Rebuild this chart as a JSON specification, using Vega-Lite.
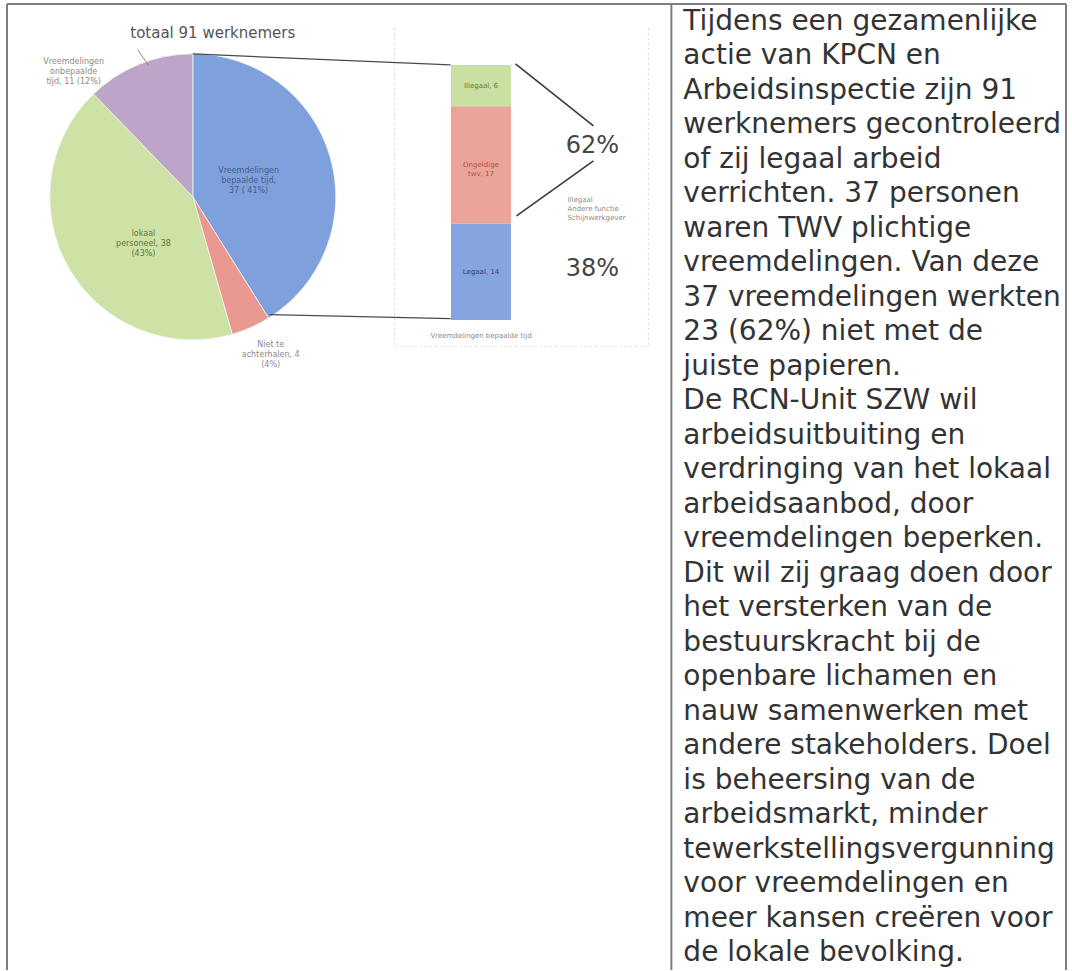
{
  "$schema": "https://vega.github.io/schema/vega-lite/v6.json",
  "width": 1072,
  "height": 971,
  "autosize": {"type": "fit", "contains": "padding"},
  "padding": 0,
  "background": "#ffffff",
  "config": {"view": {"stroke": null}},
  "datasets": {
    "werknemers": [
      {"categorie": "Vreemdelingen bepaalde tijd", "aantal": 37, "volgorde": 1, "label": "Vreemdelingen\nbepaalde tijd,\n37 ( 41%)"},
      {"categorie": "Niet te achterhalen", "aantal": 4, "volgorde": 2, "label": "Niet te\nachterhalen, 4\n(4%)"},
      {"categorie": "Lokaal personeel", "aantal": 38, "volgorde": 3, "label": "lokaal\npersoneel, 38\n(43%)"},
      {"categorie": "Vreemdelingen onbepaalde tijd", "aantal": 11, "volgorde": 4, "label": "Vreemdelingen\nonbepaalde\ntijd, 11 (12%)"}
    ],
    "twv": [
      {"groep": "Vreemdelingen bepaalde tijd", "soort": "Legaal", "aantal": 14, "volgorde": 1, "label": "Legaal, 14"},
      {"groep": "Vreemdelingen bepaalde tijd", "soort": "Ongeldige twv", "aantal": 17, "volgorde": 2, "label": "Ongeldige\ntwv, 17"},
      {"groep": "Vreemdelingen bepaalde tijd", "soort": "Illegaal", "aantal": 6, "volgorde": 3, "label": "Illegaal, 6"}
    ]
  },
  "resolve": {"scale": {"x": "independent", "y": "independent", "color": "independent"}},
  "layer": [
    {
      "layer": [
        {"data": {"values": [{}]}, "mark": {"type": "rule", "color": "#7d7d7d", "strokeWidth": 2},
         "encoding": {"x": {"datum": 6, "type": "quantitative", "scale": {"domain": [0, 1072], "nice": false, "zero": false}, "axis": null},
                      "y": {"datum": 4, "type": "quantitative", "scale": {"domain": [971, 0], "nice": false, "zero": false}, "axis": null},
                      "y2": {"datum": 971}}},
        {"data": {"values": [{}]}, "mark": {"type": "rule", "color": "#7d7d7d", "strokeWidth": 2},
         "encoding": {"x": {"datum": 6, "type": "quantitative", "scale": {"domain": [0, 1072], "nice": false, "zero": false}, "axis": null},
                      "x2": {"datum": 1066},
                      "y": {"datum": 4, "type": "quantitative", "scale": {"domain": [971, 0], "nice": false, "zero": false}, "axis": null}}},
        {"data": {"values": [{}]}, "mark": {"type": "rule", "color": "#7d7d7d", "strokeWidth": 2},
         "encoding": {"x": {"datum": 1066, "type": "quantitative", "scale": {"domain": [0, 1072], "nice": false, "zero": false}, "axis": null},
                      "y": {"datum": 4, "type": "quantitative", "scale": {"domain": [971, 0], "nice": false, "zero": false}, "axis": null},
                      "y2": {"datum": 971}}},
        {"data": {"values": [{}]}, "mark": {"type": "rule", "color": "#7d7d7d", "strokeWidth": 2},
         "encoding": {"x": {"datum": 671, "type": "quantitative", "scale": {"domain": [0, 1072], "nice": false, "zero": false}, "axis": null},
                      "y": {"datum": 4, "type": "quantitative", "scale": {"domain": [971, 0], "nice": false, "zero": false}, "axis": null},
                      "y2": {"datum": 971}}},
        {"data": {"values": [{}]}, "mark": {"type": "rule", "color": "#d6d6d6", "strokeWidth": 1, "strokeDash": [2, 3]},
         "encoding": {"x": {"datum": 394, "type": "quantitative", "scale": {"domain": [0, 1072], "nice": false, "zero": false}, "axis": null},
                      "y": {"datum": 28, "type": "quantitative", "scale": {"domain": [971, 0], "nice": false, "zero": false}, "axis": null},
                      "y2": {"datum": 347}}},
        {"data": {"values": [{}]}, "mark": {"type": "rule", "color": "#d6d6d6", "strokeWidth": 1, "strokeDash": [2, 3]},
         "encoding": {"x": {"datum": 648, "type": "quantitative", "scale": {"domain": [0, 1072], "nice": false, "zero": false}, "axis": null},
                      "y": {"datum": 28, "type": "quantitative", "scale": {"domain": [971, 0], "nice": false, "zero": false}, "axis": null},
                      "y2": {"datum": 347}}},
        {"data": {"values": [{}]}, "mark": {"type": "rule", "color": "#dedede", "strokeWidth": 1, "strokeDash": [2, 3]},
         "encoding": {"x": {"datum": 394, "type": "quantitative", "scale": {"domain": [0, 1072], "nice": false, "zero": false}, "axis": null},
                      "x2": {"datum": 648},
                      "y": {"datum": 347, "type": "quantitative", "scale": {"domain": [971, 0], "nice": false, "zero": false}, "axis": null}}},
        {"data": {"name": "werknemers"},
         "mark": {"type": "arc", "outerRadius": 143, "stroke": "#f2f2f2", "strokeWidth": 0.8},
         "encoding": {"x": {"datum": 192, "type": "quantitative", "scale": {"domain": [0, 1072], "nice": false, "zero": false}, "axis": null},
                      "y": {"datum": 197, "type": "quantitative", "scale": {"domain": [971, 0], "nice": false, "zero": false}, "axis": null},
                      "theta": {"field": "aantal", "type": "quantitative", "stack": true},
                      "order": {"field": "volgorde", "type": "quantitative"},
                      "color": {"field": "categorie", "type": "nominal", "legend": null,
                                "scale": {"domain": ["Vreemdelingen bepaalde tijd", "Niet te achterhalen", "Lokaal personeel", "Vreemdelingen onbepaalde tijd"],
                                          "range": ["#7ea1dd", "#e9998f", "#cde2a4", "#bca5c6"]}}}},
        {"data": {"name": "werknemers"},
         "mark": {"type": "text", "radius": 58, "dy": -10, "fontSize": 8, "font": "DejaVu Sans", "lineBreak": "\n", "lineHeight": 10, "color": "#4b5b86"},
         "encoding": {"x": {"datum": 192, "type": "quantitative", "scale": {"domain": [0, 1072], "nice": false, "zero": false}, "axis": null},
                      "y": {"datum": 197, "type": "quantitative", "scale": {"domain": [971, 0], "nice": false, "zero": false}, "axis": null},
                      "theta": {"field": "aantal", "type": "quantitative", "stack": true},
                      "order": {"field": "volgorde", "type": "quantitative"},
                      "text": {"condition": {"test": "datum.categorie === 'Vreemdelingen bepaalde tijd'", "field": "label", "type": "nominal"}, "value": ""}}},
        {"data": {"name": "werknemers"},
         "mark": {"type": "text", "radius": 57, "dy": 9, "fontSize": 8, "font": "DejaVu Sans", "lineBreak": "\n", "lineHeight": 10, "color": "#66723f"},
         "encoding": {"x": {"datum": 192, "type": "quantitative", "scale": {"domain": [0, 1072], "nice": false, "zero": false}, "axis": null},
                      "y": {"datum": 197, "type": "quantitative", "scale": {"domain": [971, 0], "nice": false, "zero": false}, "axis": null},
                      "theta": {"field": "aantal", "type": "quantitative", "stack": true},
                      "order": {"field": "volgorde", "type": "quantitative"},
                      "text": {"condition": {"test": "datum.categorie === 'Lokaal personeel'", "field": "label", "type": "nominal"}, "value": ""}}},
        {"data": {"name": "werknemers"},
         "mark": {"type": "text", "radius": 162, "dx": 12, "fontSize": 8, "font": "DejaVu Sans", "lineBreak": "\n", "lineHeight": 10, "color": "#8a8a8a"},
         "encoding": {"x": {"datum": 192, "type": "quantitative", "scale": {"domain": [0, 1072], "nice": false, "zero": false}, "axis": null},
                      "y": {"datum": 197, "type": "quantitative", "scale": {"domain": [971, 0], "nice": false, "zero": false}, "axis": null},
                      "theta": {"field": "aantal", "type": "quantitative", "stack": true},
                      "order": {"field": "volgorde", "type": "quantitative"},
                      "text": {"condition": {"test": "datum.categorie === 'Niet te achterhalen'", "field": "label", "type": "nominal"}, "value": ""}}},
        {"data": {"name": "werknemers"},
         "mark": {"type": "text", "radius": 150, "dx": -63, "dy": 4, "fontSize": 8, "font": "DejaVu Sans", "lineBreak": "\n", "lineHeight": 10, "color": "#8a8a8a"},
         "encoding": {"x": {"datum": 192, "type": "quantitative", "scale": {"domain": [0, 1072], "nice": false, "zero": false}, "axis": null},
                      "y": {"datum": 197, "type": "quantitative", "scale": {"domain": [971, 0], "nice": false, "zero": false}, "axis": null},
                      "theta": {"field": "aantal", "type": "quantitative", "stack": true},
                      "order": {"field": "volgorde", "type": "quantitative"},
                      "text": {"condition": {"test": "datum.categorie === 'Vreemdelingen onbepaalde tijd'", "field": "label", "type": "nominal"}, "value": ""}}},
        {"data": {"values": [{}]}, "mark": {"type": "rule", "color": "#8a8a8a", "strokeWidth": 1},
         "encoding": {"x": {"datum": 137, "type": "quantitative", "scale": {"domain": [0, 1072], "nice": false, "zero": false}, "axis": null},
                      "y": {"datum": 50, "type": "quantitative", "scale": {"domain": [971, 0], "nice": false, "zero": false}, "axis": null},
                      "x2": {"datum": 148}, "y2": {"datum": 66}}},
        {"data": {"values": [{}]}, "mark": {"type": "rule", "color": "#4a4a4a", "strokeWidth": 1.3},
         "encoding": {"x": {"datum": 192, "type": "quantitative", "scale": {"domain": [0, 1072], "nice": false, "zero": false}, "axis": null},
                      "y": {"datum": 54, "type": "quantitative", "scale": {"domain": [971, 0], "nice": false, "zero": false}, "axis": null},
                      "x2": {"datum": 450}, "y2": {"datum": 65}}},
        {"data": {"values": [{}]}, "mark": {"type": "rule", "color": "#4a4a4a", "strokeWidth": 1.3},
         "encoding": {"x": {"datum": 269, "type": "quantitative", "scale": {"domain": [0, 1072], "nice": false, "zero": false}, "axis": null},
                      "y": {"datum": 315, "type": "quantitative", "scale": {"domain": [971, 0], "nice": false, "zero": false}, "axis": null},
                      "x2": {"datum": 450}, "y2": {"datum": 319}}},
        {"data": {"values": [{}]}, "mark": {"type": "rule", "color": "#3a3a3a", "strokeWidth": 1.6},
         "encoding": {"x": {"datum": 515, "type": "quantitative", "scale": {"domain": [0, 1072], "nice": false, "zero": false}, "axis": null},
                      "y": {"datum": 64, "type": "quantitative", "scale": {"domain": [971, 0], "nice": false, "zero": false}, "axis": null},
                      "x2": {"datum": 593}, "y2": {"datum": 126}}},
        {"data": {"values": [{}]}, "mark": {"type": "rule", "color": "#3a3a3a", "strokeWidth": 1.6},
         "encoding": {"x": {"datum": 593, "type": "quantitative", "scale": {"domain": [0, 1072], "nice": false, "zero": false}, "axis": null},
                      "y": {"datum": 161, "type": "quantitative", "scale": {"domain": [971, 0], "nice": false, "zero": false}, "axis": null},
                      "x2": {"datum": 516}, "y2": {"datum": 216}}},
        {"data": {"values": [{}]}, "mark": {"type": "text", "text": "totaal 91 werknemers", "fontSize": 15, "font": "DejaVu Sans", "color": "#555555", "align": "center", "baseline": "middle"},
         "encoding": {"x": {"datum": 212, "type": "quantitative", "scale": {"domain": [0, 1072], "nice": false, "zero": false}, "axis": null},
                      "y": {"datum": 33, "type": "quantitative", "scale": {"domain": [971, 0], "nice": false, "zero": false}, "axis": null}}},
        {"data": {"values": [{}]}, "mark": {"type": "text", "text": "62%", "fontSize": 24, "font": "DejaVu Sans", "color": "#454545", "align": "center", "baseline": "middle"},
         "encoding": {"x": {"datum": 592, "type": "quantitative", "scale": {"domain": [0, 1072], "nice": false, "zero": false}, "axis": null},
                      "y": {"datum": 146, "type": "quantitative", "scale": {"domain": [971, 0], "nice": false, "zero": false}, "axis": null}}},
        {"data": {"values": [{}]}, "mark": {"type": "text", "text": "38%", "fontSize": 24, "font": "DejaVu Sans", "color": "#454545", "align": "center", "baseline": "middle"},
         "encoding": {"x": {"datum": 592, "type": "quantitative", "scale": {"domain": [0, 1072], "nice": false, "zero": false}, "axis": null},
                      "y": {"datum": 269, "type": "quantitative", "scale": {"domain": [971, 0], "nice": false, "zero": false}, "axis": null}}},
        {"data": {"values": [{}]}, "mark": {"type": "text", "text": ["Illegaal", "Andere functie", "Schijnwerkgever"], "fontSize": 7, "lineHeight": 9, "font": "DejaVu Sans", "color": "#8a8a8a", "align": "left", "baseline": "middle"},
         "encoding": {"x": {"datum": 567, "type": "quantitative", "scale": {"domain": [0, 1072], "nice": false, "zero": false}, "axis": null},
                      "y": {"datum": 200, "type": "quantitative", "scale": {"domain": [971, 0], "nice": false, "zero": false}, "axis": null}}},
        {"data": {"values": [{}]},
         "mark": {"type": "text", "fontSize": 28, "lineHeight": 34.5, "font": "DejaVu Sans", "color": "#333333", "align": "left", "baseline": "alphabetic",
                  "text": ["Tijdens een gezamenlijke", "actie van KPCN en", "Arbeidsinspectie zijn 91", "werknemers gecontroleerd", "of zij legaal arbeid", "verrichten. 37 personen", "waren TWV plichtige", "vreemdelingen. Van deze", "37 vreemdelingen werkten", "23 (62%) niet met de", "juiste papieren.", "De RCN-Unit SZW wil", "arbeidsuitbuiting en", "verdringing van het lokaal", "arbeidsaanbod, door", "vreemdelingen beperken.", "Dit wil zij graag doen door", "het versterken van de", "bestuurskracht bij de", "openbare lichamen en", "nauw samenwerken met", "andere stakeholders. Doel", "is beheersing van de", "arbeidsmarkt, minder", "tewerkstellingsvergunning", "voor vreemdelingen en", "meer kansen creëren voor", "de lokale bevolking."]},
         "encoding": {"x": {"datum": 683, "type": "quantitative", "scale": {"domain": [0, 1072], "nice": false, "zero": false}, "axis": null},
                      "y": {"datum": 30, "type": "quantitative", "scale": {"domain": [971, 0], "nice": false, "zero": false}, "axis": null}}}
      ]
    },
    {
      "data": {"name": "twv"},
      "encoding": {
        "x": {"field": "groep", "type": "nominal",
              "scale": {"domain": ["Vreemdelingen bepaalde tijd"], "range": [450, 510], "paddingInner": 0, "paddingOuter": 0},
              "axis": {"orient": "bottom", "offset": -651, "title": null, "domain": false, "ticks": false, "grid": false, "labelFontSize": 7, "labelFont": "DejaVu Sans", "labelColor": "#8a8a8a", "labelPadding": 12, "labelAngle": 0}},
        "order": {"field": "volgorde", "type": "quantitative"}
      },
      "layer": [
        {"mark": {"type": "bar"},
         "encoding": {"y": {"field": "aantal", "type": "quantitative", "stack": "zero", "scale": {"domain": [0, 37], "range": [320, 65], "nice": false, "zero": false}, "axis": null},
                      "color": {"field": "soort", "type": "nominal", "legend": null,
                                "scale": {"domain": ["Legaal", "Ongeldige twv", "Illegaal"], "range": ["#86a5de", "#eba39a", "#c9e0a2"]}}}},
        {"mark": {"type": "text", "fontSize": 7, "font": "DejaVu Sans", "lineBreak": "\n", "lineHeight": 9, "baseline": "middle"},
         "encoding": {"y": {"field": "aantal", "type": "quantitative", "stack": "zero", "bandPosition": 0.5, "scale": {"domain": [0, 37], "range": [320, 65], "nice": false, "zero": false}, "axis": null},
                      "fill": {"field": "soort", "type": "nominal", "legend": null,
                               "scale": {"domain": ["Legaal", "Ongeldige twv", "Illegaal"], "range": ["#2f3f78", "#b0504a", "#5d7a38"]}},
                      "text": {"field": "label", "type": "nominal"}}}
      ]
    }
  ]
}
